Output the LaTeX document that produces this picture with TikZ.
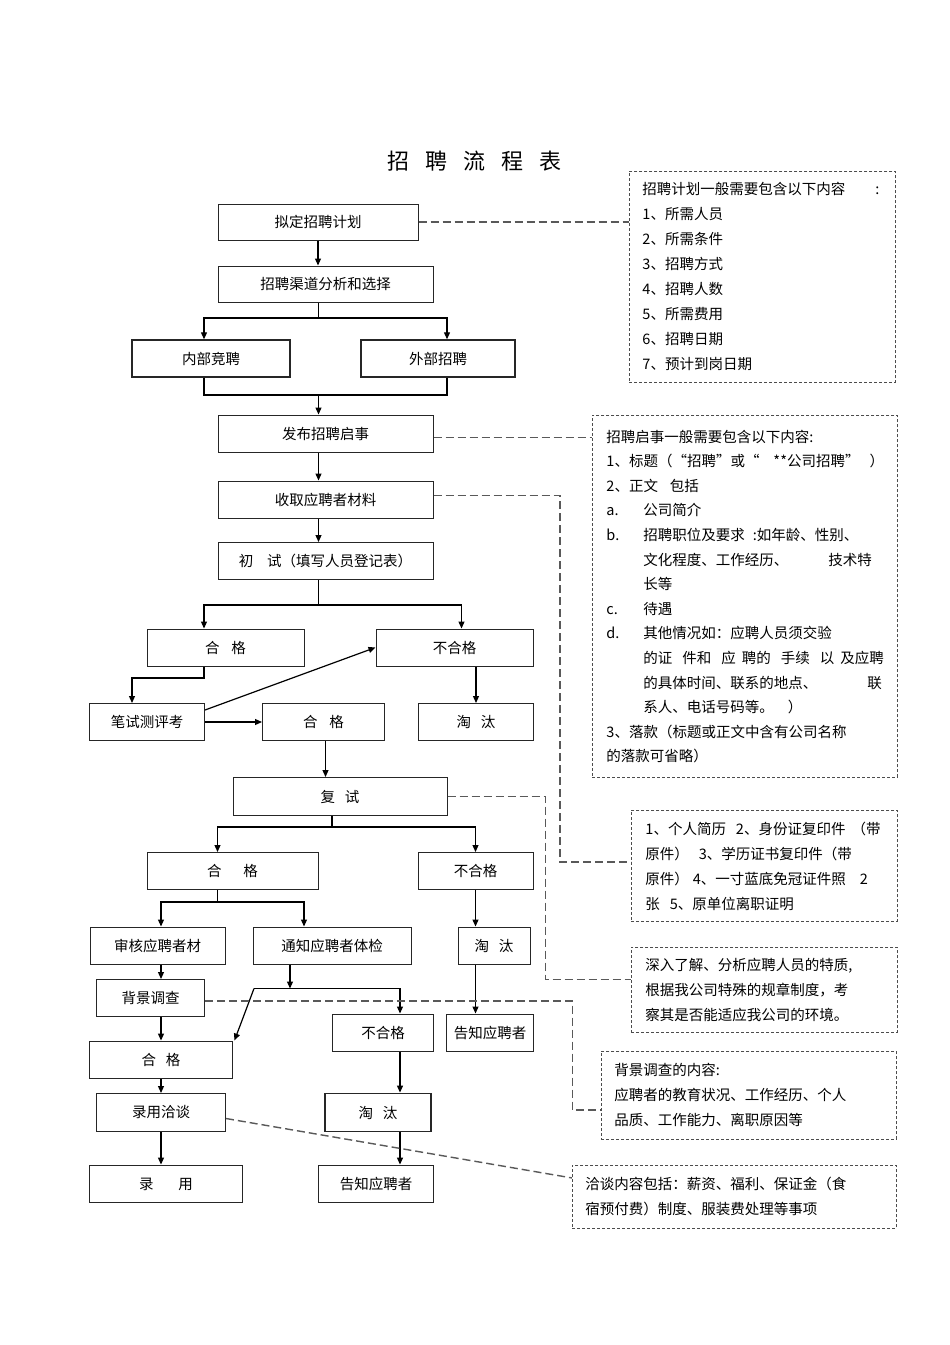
\documentclass[tikz,border=0pt]{standalone}
\usepackage{fontspec}
\setmainfont{Noto Sans CJK SC}
\usetikzlibrary{arrows.meta}
\newcommand\lab[1]{\makebox[37pt][l]{#1}}
\tikzset{
  box/.style={draw=black!85, line width=1pt, inner sep=0pt, font=\fontsize{14.5}{17}\selectfont},
  thickbox/.style={box, line width=1.9pt},
  note/.style={draw=black!70, line width=0.9pt, dash pattern=on 3pt off 2pt, anchor=north west,
    align=left, inner ysep=0pt, font=\fontsize{14.5}{25}\selectfont},
  wire/.style={line width=1.2pt},
  arr/.style={line width=1.2pt, -{Triangle[length=7pt,width=6pt]}},
  link/.style={draw=black!65, line width=1.4pt, dash pattern=on 8pt off 4pt},
}

\begin{document}
\begin{tikzpicture}[x=1pt, y=-1pt]
\path[use as bounding box, fill=white] (0,0) rectangle (950,1345);

\node (title) at (474.5,161) {\fontsize{22}{22}\selectfont 招\kern16pt 聘\kern16pt 流\kern16pt 程\kern16pt 表};

\node[box, minimum width=200pt, minimum height=36pt] (plan) at (318,222) {拟定招聘计划};
\node[box, minimum width=215pt, minimum height=36pt] (channel) at (325.5,284) {招聘渠道分析和选择};
\node[box, line width=1.4pt, minimum width=158pt, minimum height=37pt] (internal) at (211,358.5) {内部竞聘};
\node[box, line width=1.4pt, minimum width=154pt, minimum height=37pt] (external) at (438,358.5) {外部招聘};
\node[box, minimum width=215pt, minimum height=37pt] (publish) at (325.5,433.5) {发布招聘启事};
\node[box, minimum width=215pt, minimum height=37pt] (collect) at (325.5,499.5) {收取应聘者材料};
\node[box, minimum width=215pt, minimum height=37pt] (first) at (325.5,561) {初\kern14pt 试（填写人员登记表）};
\node[box, minimum width=157pt, minimum height=37pt] (pass1) at (225.5,647.5) {合\kern12pt 格};
\node[box, minimum width=157pt, minimum height=37pt] (fail1) at (454.5,647.5) {不合格};
\node[box, minimum width=115pt, minimum height=37pt] (written) at (147,722) {笔试测评考};
\node[box, minimum width=122pt, minimum height=37pt] (pass2) at (323.5,722) {合\kern12pt 格};
\node[box, minimum width=115pt, minimum height=37pt] (out1) at (476,722) {淘\kern10pt 汰};
\node[box, minimum width=214pt, minimum height=38pt] (second) at (340,796.5) {复\kern10pt 试};
\node[box, minimum width=171pt, minimum height=37pt] (pass3) at (232.5,871) {合\kern22pt 格};
\node[box, minimum width=115pt, minimum height=37pt] (fail3) at (475.5,871) {不合格};
\node[box, minimum width=135pt, minimum height=37pt] (review) at (157.5,945.5) {审核应聘者材};
\node[box, minimum width=158pt, minimum height=37pt] (exam) at (332,945.5) {通知应聘者体检};
\node[box, minimum width=72pt, minimum height=37pt] (out3) at (494,945.5) {淘\kern10pt 汰};
\node[box, minimum width=108pt, minimum height=37pt] (bgcheck) at (150.5,998) {背景调查};
\node[box, minimum width=101pt, minimum height=37pt] (fail4) at (383,1032.5) {不合格};
\node[box, minimum width=87pt, minimum height=37pt] (tell1) at (490,1032.5) {告知应聘者};
\node[thickbox, minimum width=143pt, minimum height=37pt] (pass4) at (161,1060) {合\kern10pt 格};
\node[box, minimum width=129pt, minimum height=38pt] (talk) at (161,1112.5) {录用洽谈};
\node[thickbox, minimum width=106pt, minimum height=38pt] (out4) at (378,1112.5) {淘\kern10pt 汰};
\node[thickbox, minimum width=153pt, minimum height=37pt] (hire) at (166,1184) {录\kern25pt 用};
\node[thickbox, minimum width=115pt, minimum height=37pt] (tell2) at (376,1184) {告知应聘者};

\node[note, minimum width=266pt, minimum height=211pt, text width=240pt, inner xsep=13pt] (note1) at (629,171)
  {招聘计划一般需要包含以下内容\kern30pt :\\
   1、所需人员\\ 2、所需条件\\ 3、招聘方式\\ 4、招聘人数\\ 5、所需费用\\ 6、招聘日期\\ 7、预计到岗日期};
\node[note, minimum width=305pt, minimum height=362pt, text width=277pt, inner xsep=14pt,
  font=\fontsize{14.5}{24.6}\selectfont] (note2) at (592,415)
  {招聘启事一般需要包含以下内容:\\
   1、标题（“招聘”或“\kern14pt **公司招聘”\kern10pt ）\\
   2、正文\kern12pt 包括\\
   \lab{a.}公司简介\\
   \lab{b.}招聘职位及要求\kern8pt :如年龄、性别、\\
   \lab{}文化程度、工作经历、\kern40pt 技术特\\
   \lab{}长等\\
   \lab{c.}待遇\\
   \lab{d.}其他情况如：应聘人员须交验\\
   \lab{}的证\kern10pt 件和\kern10pt 应\kern6pt 聘的\kern10pt 手续\kern10pt 以\kern6pt 及应聘\\
   \lab{}的具体时间、联系的地点、\kern50pt 联\\
   \lab{}系人、电话号码等。\kern14pt ）\\
   3、落款（标题或正文中含有公司名称\\
   的落款可省略）};
\node[note, minimum width=266pt, minimum height=111pt, text width=238pt, inner xsep=14pt] (note3) at (631,810)
  {1、个人简历\kern10pt 2、身份证复印件\kern6pt （带\\
   原件）\kern10pt 3、学历证书复印件（带\\
   原件）\kern4pt 4、一寸蓝底免冠证件照\kern14pt 2\\
   张\kern10pt 5、原单位离职证明};
\node[note, minimum width=266pt, minimum height=85pt, text width=238pt, inner xsep=14pt] (note4) at (631,947)
  {深入了解、分析应聘人员的特质,\\
   根据我公司特殊的规章制度，考\\
   察其是否能适应我公司的环境。};
\node[note, minimum width=295pt, minimum height=88pt, text width=269pt, inner xsep=13pt] (note5) at (601,1051)
  {背景调查的内容:\\
   应聘者的教育状况、工作经历、个人\\
   品质、工作能力、离职原因等};
\node[note, minimum width=324pt, minimum height=63pt, text width=298pt, inner xsep=13pt] (note6) at (572,1165)
  {洽谈内容包括：薪资、福利、保证金（食\\
   宿预付费）制度、服装费处理等事项};

\coordinate (split1) at (318.5,318);
\coordinate (merge1) at (318.5,395);
\coordinate (split2) at (318.5,605);
\coordinate (split3) at (332,827);
\coordinate (split4) at (217.5,902);
\coordinate (split5) at (290,988.5);
\coordinate (bend5) at (254,988.5);
\coordinate (knee3) at (560,862);
\coordinate (knee4) at (545.5,979.5);
\coordinate (knee5) at (572.5,1110);

\draw[arr] (plan.south) -- (plan.south |- channel.north);
\draw[wire] (split1 |- channel.south) -- (split1);
\draw[arr] (split1) -| ([xshift=-7pt]internal.north);
\draw[arr] (split1) -| ([xshift=9pt]external.north);
\draw[wire] ([xshift=-7pt]internal.south) |- (merge1) -| ([xshift=9pt]external.south);
\draw[arr] (merge1) -- (merge1 |- publish.north);
\draw[arr] (split1 |- publish.south) -- (split1 |- collect.north);
\draw[arr] (split1 |- collect.south) -- (split1 |- first.north);
\draw[wire] (split2 |- first.south) -- (split2);
\draw[arr] (split2) -| ([xshift=-21.5pt]pass1.north);
\draw[arr] (split2) -| ([xshift=7pt]fail1.north);
\draw[arr] ([xshift=-21.5pt]pass1.south) -- ++(0,11.5) -| ([xshift=-15pt]written.north);
\draw[arr] ([yshift=-7pt]written.north east) -- (fail1.west);
\draw[arr] (written) -- (pass2);
\draw[arr] (out1.north |- fail1.south) -- (out1.north);
\draw[arr] ([xshift=2pt]pass2.south) -- ([xshift=2pt]pass2.south |- second.north);
\draw[wire] (split3 |- second.south) -- (split3);
\draw[arr] (split3) -| ([xshift=-15pt]pass3.north);
\draw[arr] (split3) -| (fail3.north);
\draw[wire] (split4 |- pass3.south) -- (split4);
\draw[arr] (split4) -| ([xshift=3.5pt]review.north);
\draw[arr] (split4) -| ([xshift=-28pt]exam.north);
\draw[arr] (fail3.south) -- (fail3.south |- out3.north);
\draw[arr] ([xshift=3.5pt]review.south) -- ([xshift=3.5pt]review.south |- bgcheck.north);
\draw[arr] (split5 |- exam.south) -- (split5);
\draw[wire] (bend5) -- (split5);
\draw[arr] (split5) -| ([xshift=17pt]fail4.north);
\draw[arr] (bend5) -- ([xshift=1pt]pass4.north east);
\draw[arr] (fail3.south |- out3.south) -- (fail3.south |- tell1.north);
\draw[arr] (pass4.north |- bgcheck.south) -- (pass4.north);
\draw[arr] (pass4) -- (talk);
\draw[arr] (talk.south) -- (talk.south |- hire.north);
\draw[arr] ([xshift=17pt]fail4.south) -- ([xshift=17pt]fail4.south |- out4.north);
\draw[arr] ([xshift=22pt]out4.south) -- ([xshift=22pt]out4.south |- tell2.north);

\draw[link] (plan.east) -- (plan.east -| note1.west);
\draw[link] ([yshift=-4pt]publish.east) -- ([yshift=-4pt]publish.east -| note2.west);
\draw[link] ([yshift=4pt]collect.east) -| (knee3) -- (knee3 -| note3.west);
\draw[link] (second.east) -| (knee4) -- (knee4 -| note4.west);
\draw[link] ([yshift=-3pt]bgcheck.east) -| (knee5) -- (knee5 -| note5.west);
\draw[link] ([yshift=-6pt]talk.east) -- ([yshift=19pt]note6.west);
\end{tikzpicture}
\end{document}
